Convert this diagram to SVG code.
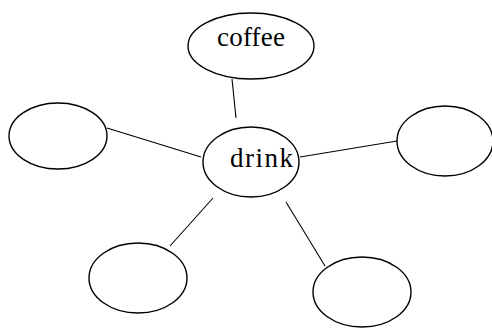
<svg xmlns="http://www.w3.org/2000/svg" width="492" height="329" viewBox="0 0 492 329">
<style>
.n{fill:#fff;stroke:#000;stroke-width:1.4}
.e line{stroke:#000;stroke-width:1.1}
text{font-family:"Liberation Serif","DejaVu Serif",serif;font-size:27px;fill:#000}
</style>
<rect width="492" height="329" fill="#fff"/>
<g class="e" id="connectors">
<line x1="232" y1="79" x2="236" y2="118"/>
<line x1="107" y1="128" x2="201" y2="157"/>
<line x1="300" y1="157" x2="397" y2="141"/>
<line x1="213" y1="198" x2="170" y2="246"/>
<line x1="286" y1="202" x2="325" y2="266"/>
</g>
<g id="coffee"><ellipse class="n" cx="251" cy="46" rx="63" ry="33"/><text x="217" y="46" textLength="68">coffee</text></g>
<g id="drink"><ellipse class="n" cx="251" cy="162" rx="48" ry="35"/><text x="230" y="167" textLength="63">drink</text></g>
<g id="left"><ellipse class="n" cx="58" cy="136" rx="49" ry="33"/></g>
<g id="right"><ellipse class="n" cx="445" cy="141" rx="48" ry="35"/></g>
<g id="bottomleft"><ellipse class="n" cx="138" cy="278" rx="49" ry="35"/></g>
<g id="bottomright"><ellipse class="n" cx="362" cy="292" rx="49" ry="35"/></g>
</svg>
